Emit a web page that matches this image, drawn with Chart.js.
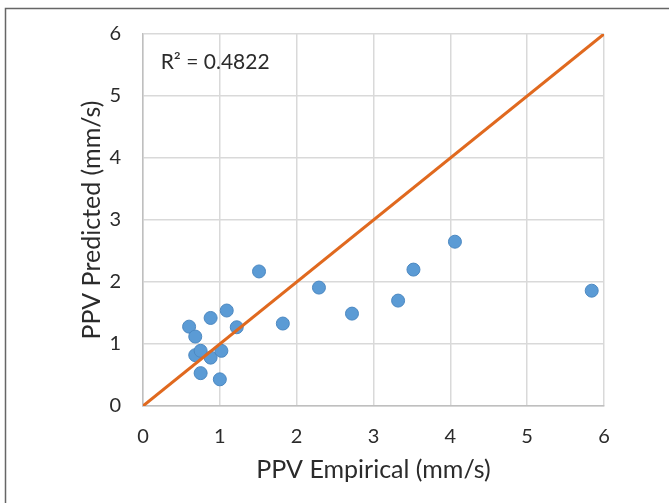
<!DOCTYPE html>
<html>
<head>
<meta charset="utf-8">
<script src="https://cdn.jsdelivr.net/npm/chart.js@4/dist/chart.umd.min.js"></script>
<style>
  html, body { margin: 0; padding: 0; background: #fff; }
  #wrap { width: 669px; height: 503px; position: relative; }
</style>
</head>
<body>
<div id="wrap"><canvas id="ppv-chart" width="669" height="503"></canvas></div>
<script>
const empirical = [0.60, 0.68, 0.68, 0.75, 0.75, 0.88, 0.88, 1.00, 1.02, 1.09, 1.22, 1.51, 1.82, 2.29, 2.72, 3.32, 3.52, 4.06, 5.84];
const predicted = [1.28, 1.12, 0.82, 0.89, 0.53, 1.42, 0.78, 0.43, 0.89, 1.54, 1.27, 2.17, 1.33, 1.91, 1.49, 1.70, 2.20, 2.65, 1.86];
const fitLine = [0, 6];
const tickValues = [0, 1, 2, 3, 4, 5, 6];
const r2Text = 'R² = 0.4822';

const points = [];
for (let i = 0; i < empirical.length; i++)
    points.push({ x: empirical[i], y: predicted[i] });

const FONT = 'Lato, "Noto Sans", sans-serif';
const TEXT = '#2b2b2b';

const frame = {
    id: 'frame',
    beforeDraw(chart) {
        const ctx = chart.ctx;
        ctx.save();
        ctx.fillStyle = '#fff';
        ctx.fillRect(0, 0, chart.width, chart.height);
        ctx.strokeStyle = '#666';
        ctx.lineWidth = 1.5;
        ctx.strokeRect(5.5, 8.5, 800, 700);
        ctx.restore();
    },
    afterDatasetsDraw(chart) {
        const ctx = chart.ctx;
        const xs = chart.scales.x, ys = chart.scales.y;
        ctx.save();
        ctx.font = '21px ' + FONT;
        ctx.fillStyle = TEXT;
        ctx.textBaseline = 'middle';
        ctx.fillText(r2Text, xs.getPixelForValue(0.23), ys.getPixelForValue(5.55));
        ctx.restore();
    }
};

new Chart(document.getElementById('ppv-chart').getContext('2d'), {
    data: {
        datasets: [{
            type: 'line',
            data: fitLine.map(v => ({ x: v, y: v })),
            borderColor: '#e0691f',
            borderWidth: 3,
            pointRadius: 0,
            order: 0
        }, {
            type: 'scatter',
            data: points,
            backgroundColor: '#5b9bd5',
            borderColor: '#4d89c2',
            borderWidth: 1,
            pointRadius: 6.5,
            order: 1
        }]
    },
    options: {
        responsive: false,
        animation: false,
        layout: { padding: { left: 0, top: 32, right: 65, bottom: 0 } },
        plugins: { legend: { display: false }, tooltip: { enabled: false } },
        scales: {
            x: {
                type: 'linear', min: 0, max: 6,
                afterBuildTicks: s => { s.ticks = tickValues.map(v => ({ value: v })); },
                afterFit: s => { s.height = 97; },
                grid: { color: '#d9d9d9', lineWidth: 1.5, drawTicks: false },
                border: { color: '#bfbfbf', width: 1.5 },
                ticks: { padding: 19, color: TEXT, font: { family: FONT, size: 20 } },
                title: { display: true, text: 'PPV Empirical (mm/s)', color: TEXT,
                         font: { family: FONT, size: 25 }, padding: { top: 0, bottom: 18 } }
            },
            y: {
                type: 'linear', min: 0, max: 6,
                afterBuildTicks: s => { s.ticks = tickValues.map(v => ({ value: v })); },
                afterFit: s => { s.width = 143; },
                grid: { color: '#d9d9d9', lineWidth: 1.5, drawTicks: false },
                border: { color: '#bfbfbf', width: 1.5 },
                ticks: { padding: 22, color: TEXT, font: { family: FONT, size: 20 } },
                title: { display: true, text: 'PPV Predicted (mm/s)', color: TEXT,
                         font: { family: FONT, size: 25 }, padding: { top: 77, bottom: 0 } }
            }
        }
    },
    plugins: [frame]
});
</script>
</body>
</html>
